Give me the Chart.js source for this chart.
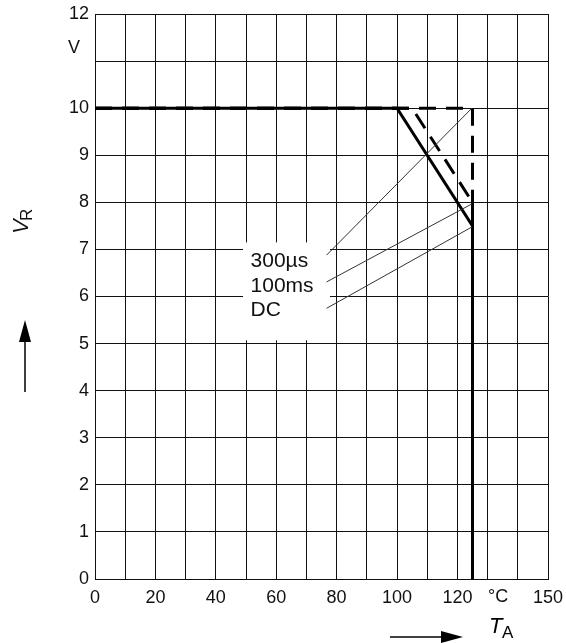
<!DOCTYPE html>
<html>
<head>
<meta charset="utf-8">
<script src="https://cdn.jsdelivr.net/npm/chart.js@4/dist/chart.umd.min.js"></script>
<style>
  html, body { margin: 0; padding: 0; background: #fff; }
  #wrap { width: 566px; height: 643px; }
</style>
</head>
<body>
<div id="wrap"><canvas id="chart-vr-ta"></canvas></div>
<script>
// derating curves, T_A in °C, V_R in V
var dcTemp = [0, 100, 125, 125];
var dcVolt = [10, 10, 7.5, 0];
var ms100Temp = [0, 105, 125, 125];
var ms100Volt = [10, 10, 8, 0];
var us300Temp = [0, 125, 125];
var us300Volt = [10, 10, 0];

// curve labels and where their leader lines point to
var curveLabels = ['300µs', '100ms', 'DC'];
var leaderStartTemp = [76.7, 76.7, 76.7];
var leaderStartVolt = [6.88, 6.31, 5.75];
var leaderEndTemp = [124.8, 124.9, 124.9];
var leaderEndVolt = [10, 7.97, 7.48];

var yTicks = [0, 1, 2, 3, 4, 5, 6, 7, 8, 9, 10, 12];
var xTicks = [0, 20, 40, 60, 80, 100, 120, 150];

var FONT = "'Liberation Sans', Arial, sans-serif";

function pts(xs, ys) {
    return xs.map(function (x, i) { return { x: x, y: ys[i] }; });
}

var datasets = [];
for (var i = 0; i < curveLabels.length; i++) {
    datasets.push({
        label: curveLabels[i] + ' leader',
        data: pts([leaderStartTemp[i], leaderEndTemp[i]], [leaderStartVolt[i], leaderEndVolt[i]]),
        borderColor: '#333',
        borderWidth: 1
    });
}
datasets.push({
    label: '300µs',
    data: pts(us300Temp, us300Volt),
    borderColor: '#000',
    borderWidth: 3,
    borderDash: [17, 10]
});
datasets.push({
    label: '100ms',
    data: pts(ms100Temp, ms100Volt),
    borderColor: '#000',
    borderWidth: 3,
    borderDash: [17, 10]
});
datasets.push({
    label: 'DC',
    data: pts(dcTemp, dcVolt),
    borderColor: '#000',
    borderWidth: 3
});

function arrow(ctx, x1, y1, x2, y2) {
    var a = Math.atan2(y2 - y1, x2 - x1);
    var len = 22, w = 6;
    ctx.beginPath();
    ctx.moveTo(x1, y1);
    ctx.lineTo(x2 - len * Math.cos(a), y2 - len * Math.sin(a));
    ctx.strokeStyle = '#000';
    ctx.lineWidth = 1.5;
    ctx.stroke();
    ctx.beginPath();
    ctx.moveTo(x2, y2);
    ctx.lineTo(x2 - len * Math.cos(a) + w * Math.sin(a), y2 - len * Math.sin(a) - w * Math.cos(a));
    ctx.lineTo(x2 - len * Math.cos(a) - w * Math.sin(a), y2 - len * Math.sin(a) + w * Math.cos(a));
    ctx.closePath();
    ctx.fillStyle = '#000';
    ctx.fill();
}

var annotations = {
    id: 'annotations',
    beforeDatasetsDraw: function (chart) {
        var ctx = chart.ctx, xs = chart.scales.x, ys = chart.scales.y;
        ctx.save();
        // white box behind the curve labels
        var bx = xs.getPixelForValue(49), by = ys.getPixelForValue(7.15);
        ctx.fillStyle = '#fff';
        ctx.fillRect(bx, by, xs.getPixelForValue(77.8) - bx, ys.getPixelForValue(5.07) - by);
        ctx.fillStyle = '#111';
        ctx.font = '21px ' + FONT;
        ctx.textAlign = 'left';
        ctx.textBaseline = 'middle';
        var labelVolt = [6.74, 6.22, 5.71];
        for (var i = 0; i < curveLabels.length; i++) {
            ctx.fillText(curveLabels[i], xs.getPixelForValue(51.5), ys.getPixelForValue(labelVolt[i]));
        }
        ctx.restore();
    },
    afterDraw: function (chart) {
        var ctx = chart.ctx, xs = chart.scales.x, ys = chart.scales.y;
        ctx.save();
        ctx.fillStyle = '#111';
        ctx.font = '18px ' + FONT;
        ctx.textBaseline = 'middle';
        // unit marks
        ctx.textAlign = 'right';
        ctx.fillText('V', chart.chartArea.left - 15, ys.getPixelForValue(11.28));
        ctx.textAlign = 'center';
        ctx.fillText('°C', xs.getPixelForValue(133.5), chart.chartArea.bottom + 18);

        // y axis title V_R, rotated
        ctx.save();
        ctx.translate(22, 222);
        ctx.rotate(-Math.PI / 2);
        ctx.textAlign = 'left';
        ctx.font = 'italic 22px ' + FONT;
        ctx.fillText('V', -12, 0);
        ctx.font = '17px ' + FONT;
        ctx.fillText('R', 1, 5);
        ctx.restore();
        arrow(ctx, 25, 392, 25, 320);

        // x axis title T_A
        ctx.textAlign = 'left';
        ctx.font = 'italic 22px ' + FONT;
        ctx.fillText('T', 489, 627);
        ctx.font = '17px ' + FONT;
        ctx.fillText('A', 502, 633);
        arrow(ctx, 390, 637, 463, 637);
        ctx.restore();
    }
};

var ctx = document.getElementById('chart-vr-ta');
new Chart(ctx, {
    type: 'line',
    data: { datasets: datasets },
    options: {
        responsive: true,
        maintainAspectRatio: false,
        animation: false,
        layout: { autoPadding: false, padding: { top: 14, right: 18, left: 0, bottom: 0 } },
        elements: { point: { radius: 0, hoverRadius: 0 }, line: { tension: 0 } },
        plugins: { legend: { display: false }, tooltip: { enabled: false } },
        scales: {
            x: {
                type: 'linear',
                min: 0,
                max: 150,
                afterFit: function (s) {
                    s.height = 64;
                    s.paddingLeft = 0;
                    s.paddingRight = 0;
                },
                grid: { color: '#111', lineWidth: 1, drawTicks: false },
                border: { color: '#111', width: 1 },
                ticks: {
                    stepSize: 10,
                    autoSkip: false,
                    maxRotation: 0,
                    padding: 8,
                    color: '#111',
                    font: { family: FONT, size: 18 },
                    callback: function (v) { return xTicks.indexOf(v) >= 0 ? String(v) : ''; }
                }
            },
            y: {
                type: 'linear',
                min: 0,
                max: 12,
                afterFit: function (s) {
                    s.width = 95;
                    s.paddingTop = 0;
                    s.paddingBottom = 0;
                },
                grid: { color: '#111', lineWidth: 1, drawTicks: false },
                border: { color: '#111', width: 1 },
                ticks: {
                    stepSize: 1,
                    autoSkip: false,
                    padding: 6,
                    color: '#111',
                    font: { family: FONT, size: 18 },
                    callback: function (v) { return yTicks.indexOf(v) >= 0 ? String(v) : ''; }
                }
            }
        }
    },
    plugins: [annotations]
});
</script>
</body>
</html>
